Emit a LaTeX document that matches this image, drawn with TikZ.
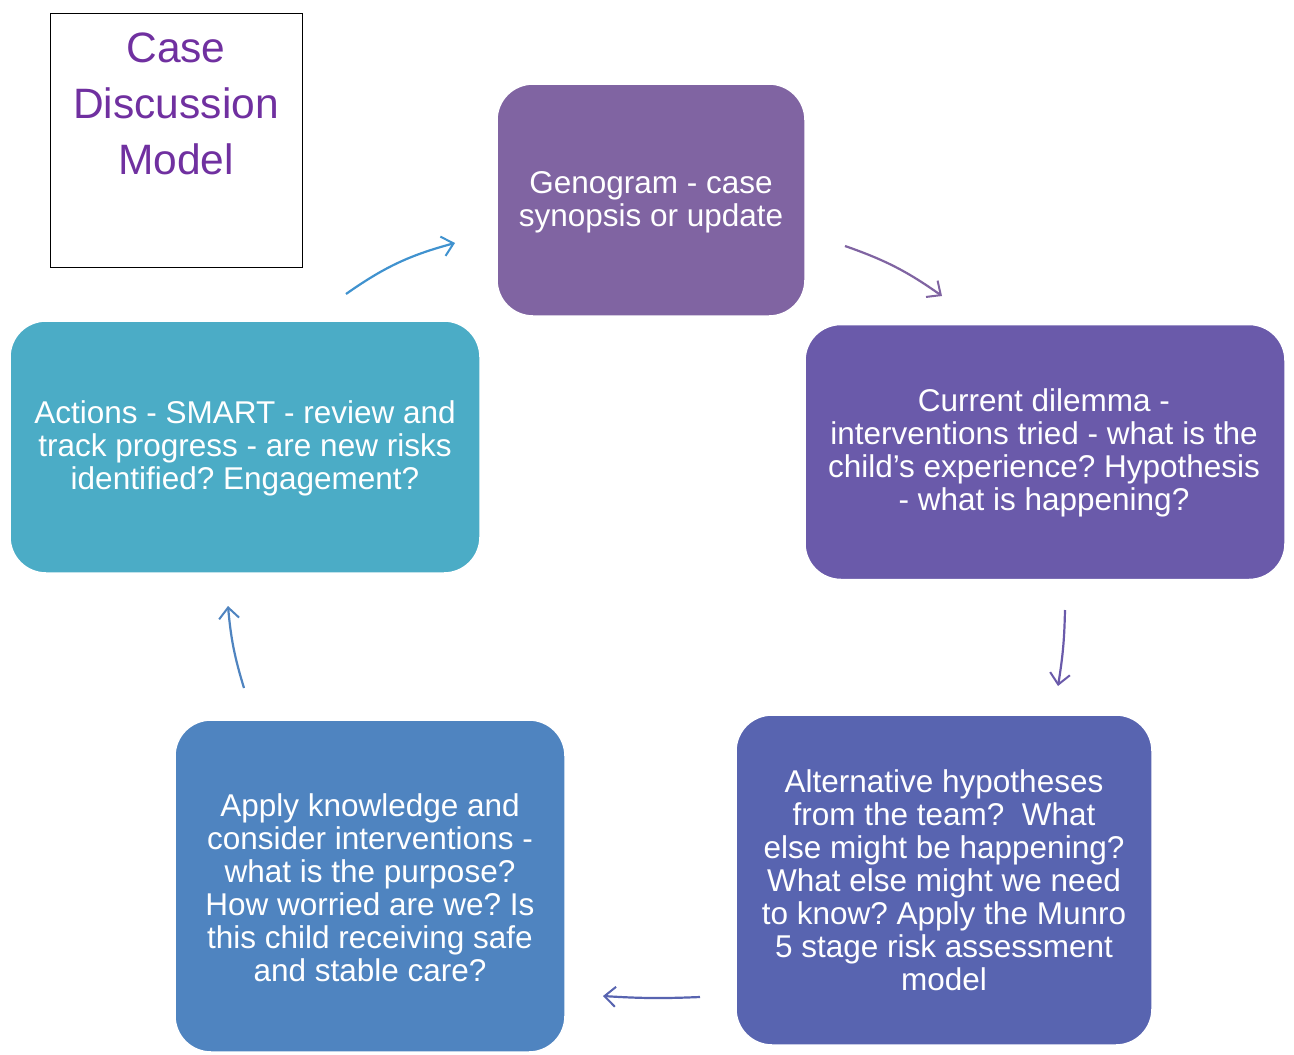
\documentclass[tikz,border=0pt]{standalone}
\usepackage{fontspec}
\setmainfont{Liberation Sans}
\usetikzlibrary{arrows.meta}
\definecolor{titlepurple}{HTML}{7030A0}
\definecolor{cgeno}{HTML}{8064A2}
\definecolor{ccur}{HTML}{6A5AAA}
\definecolor{calt}{HTML}{5864B0}
\definecolor{capply}{HTML}{4F84C0}
\definecolor{cact}{HTML}{4BACC6}
\tikzset{
  stagebox/.style={rounded corners=36pt, draw=white, line width=1.5pt, inner sep=0pt},
  stagetext/.style={text=white, align=center, font=\fontsize{31.5}{33}\selectfont},
  flowarrow/.style={line width=2.2pt, -{Straight Barb[length=11pt,width=20pt,line width=2pt]}},
}
\frenchspacing
\begin{document}
\begin{tikzpicture}[x=1pt,y=1pt]
\useasboundingbox (0,0) rectangle (1294,-1055);
\fill[white] (0,0) rectangle (1294,-1055);
% title
\node[draw=black, line width=1pt, minimum width=252pt, minimum height=254pt, anchor=north west, inner sep=0pt] (title) at (50,-13) {};
\node[text=titlepurple, align=center, font=\fontsize{42.5}{56}\selectfont, anchor=north] (titletext) at (176,-29) {Case\\Discussion\\Model};
% boxes
\node[stagebox, fill=cgeno, minimum width=308pt, minimum height=232pt] (geno) at (651,-200) {};
\node[stagetext] (genotext) at (651,-202) {Genogram - case\\synopsis or update};
\node[stagebox, fill=ccur, minimum width=480pt, minimum height=255pt] (cur) at (1045,-452) {};
\node[stagetext] (curtext) at (1044,-453) {Current dilemma -\\interventions tried - what is the\\child's experience? Hypothesis\\- what is happening?};
\node[stagebox, fill=calt, minimum width=416pt, minimum height=330pt] (alt) at (944,-880) {};
\node[stagetext] (alttext) at (944,-880) {Alternative hypotheses\\from the team?\ \ What\\else might be happening?\\What else might we need\\to know? Apply the Munro\\5 stage risk assessment\\model};
\node[stagebox, fill=capply, minimum width=390pt, minimum height=332pt] (apply) at (370,-886) {};
\node[stagetext] (applytext) at (370,-888) {Apply knowledge and\\consider interventions -\\what is the purpose?\\How worried are we? Is\\this child receiving safe\\and stable care?};
\node[stagebox, fill=cact, minimum width=470pt, minimum height=252pt] (act) at (245,-447) {};
\node[stagetext] (acttext) at (245,-448) {Actions - SMART - review and\\track progress - are new risks\\identified? Engagement?};
% arrows
\coordinate (a1s) at (346,-294); \coordinate (a1e) at (455,-243);
\coordinate (a2s) at (845,-246); \coordinate (a2e) at (942,-296);
\coordinate (a3s) at (1065,-610); \coordinate (a3e) at (1058,-686);
\coordinate (a4s) at (700,-997); \coordinate (a4e) at (603,-996);
\coordinate (a5s) at (244,-688); \coordinate (a5e) at (228,-606);
\draw[flowarrow, color=cact!85!blue] (a1s) to[bend left=10] (a1e);
\draw[flowarrow, color=cgeno] (a2s) to[bend left=8] (a2e);
\draw[flowarrow, color=ccur] (a3s) to[bend left=4] (a3e);
\draw[flowarrow, color=calt] (a4s) to[bend left=3] (a4e);
\draw[flowarrow, color=capply] (a5s) to[bend left=6] (a5e);
\end{tikzpicture}
\end{document}
